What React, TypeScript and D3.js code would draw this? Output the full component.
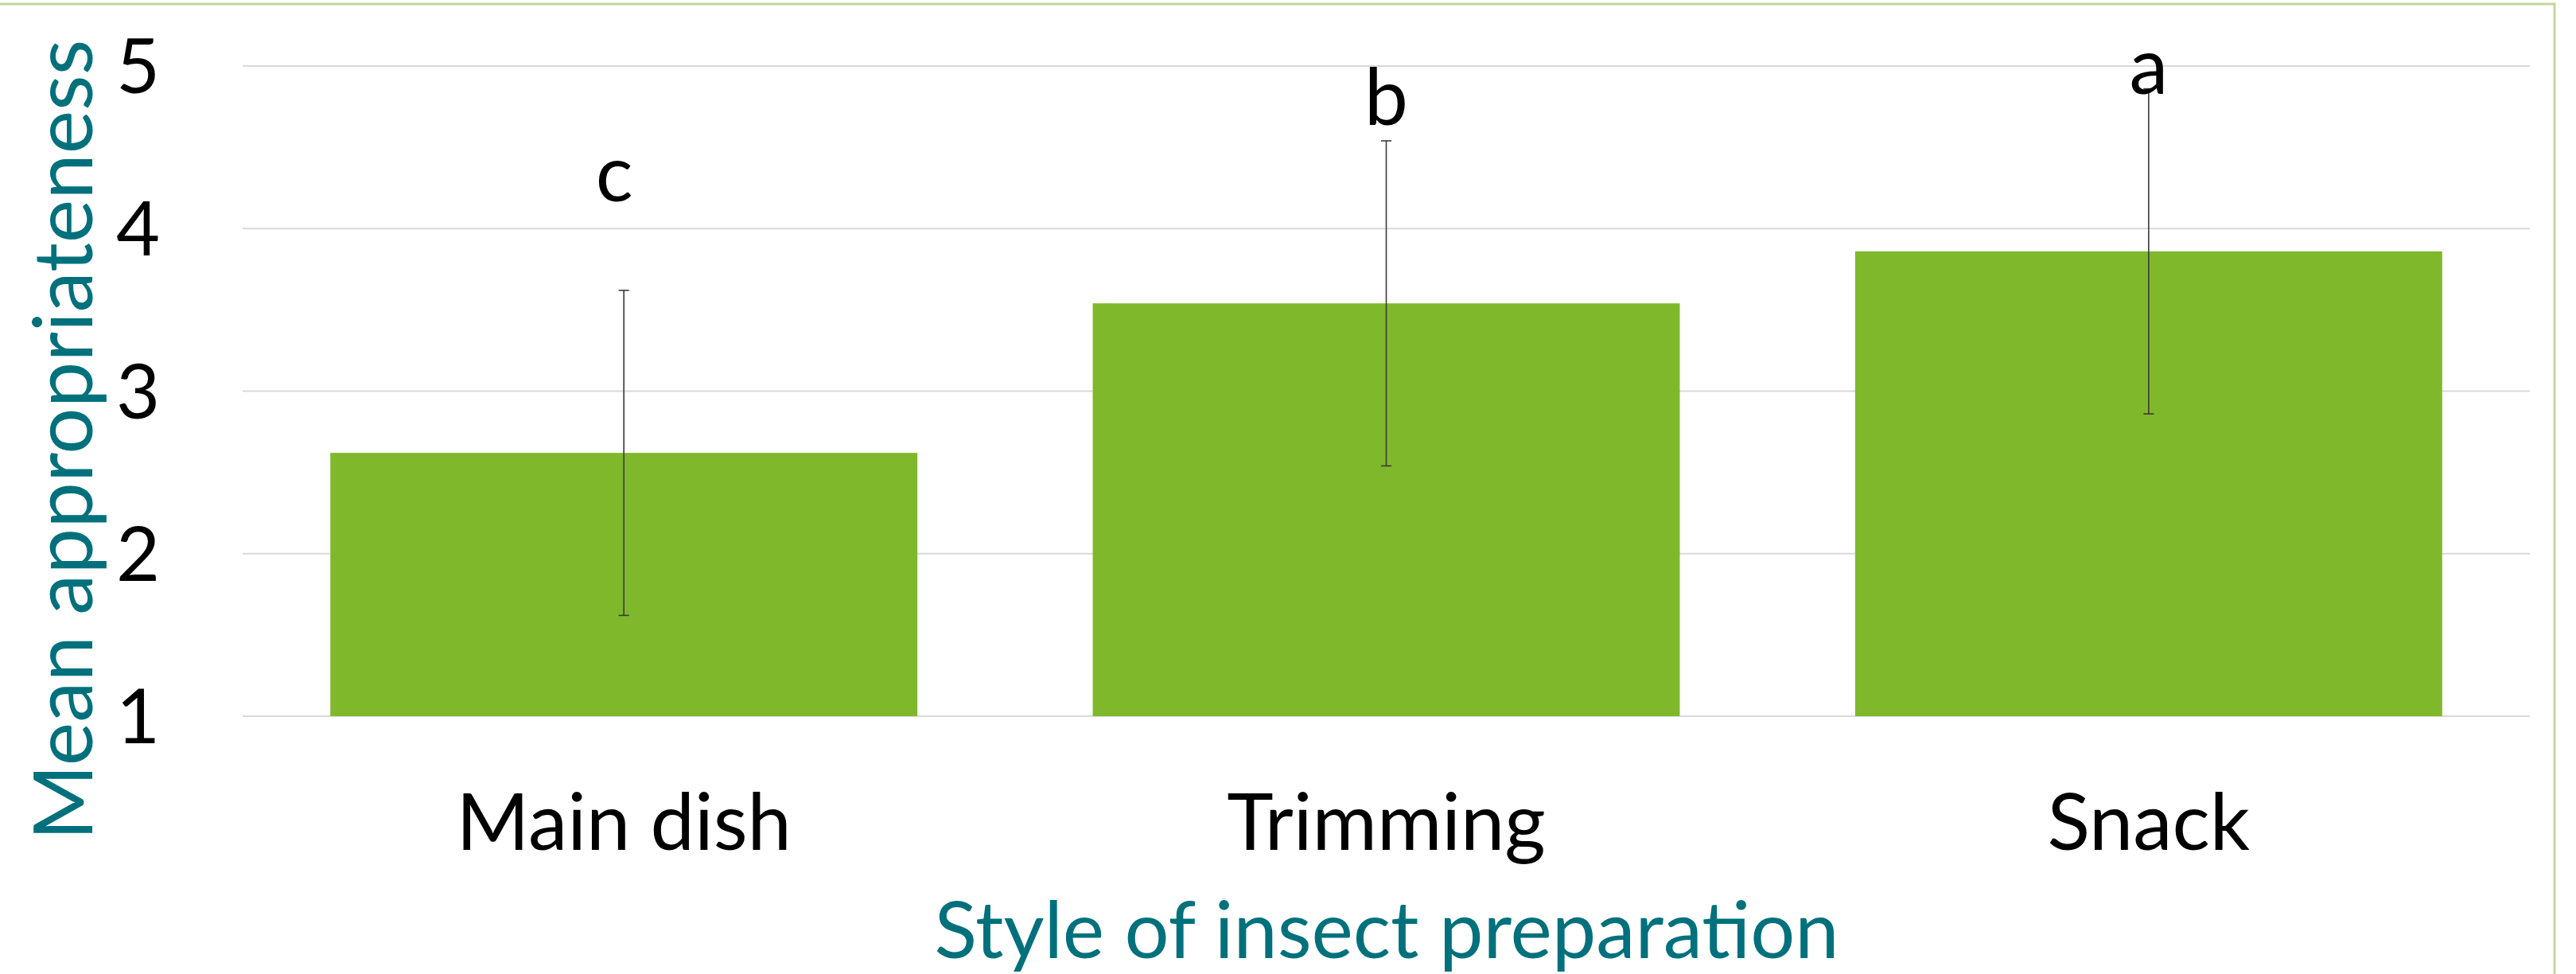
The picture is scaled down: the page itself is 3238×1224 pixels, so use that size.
import React from "react";
import * as d3 from "d3";

const categories = ["Main dish", "Trimming", "Snack"];
const means = [2.62, 3.54, 3.86];
const errors = [1.0, 1.0, 1.0];
const sigLetters = ["c", "b", "a"];
const sigLetterLevels = [4.17, 4.64, 4.83];
const yTicks = [1, 2, 3, 4, 5];
const yTitle = "Mean appropriateness";
const xTitle = "Style of insect preparation";

const W = 3238;
const H = 1224;
const FONT = "Lato, 'Open Sans', sans-serif";
const TEAL = "#00717C";
const BAR = "#7FB92B";

export default function App() {
  const x = d3
    .scaleBand<string>()
    .domain(categories)
    .range([305, 3180])
    .paddingInner(0.23)
    .paddingOuter(0.115);
  const y = d3.scaleLinear().domain([1, 5]).range([900, 83]);
  const capHalf = 6.5;

  return (
    <svg
      width={W}
      height={H}
      style={{ position: "absolute", left: 0, top: 0, background: "#fff" }}
    >
      <rect x={0} y={0} width={W} height={H} fill="#fff" />
      {/* outer frame */}
      <rect
        x={-20}
        y={5}
        width={3211 + 20}
        height={H + 40}
        fill="none"
        stroke="#C3D69B"
        strokeWidth={3}
      />
      {/* gridlines */}
      {yTicks.map((t) => (
        <line
          key={"g" + t}
          x1={305}
          x2={3180}
          y1={y(t)}
          y2={y(t)}
          stroke="#D9D9D9"
          strokeWidth={2}
        />
      ))}
      {/* y tick labels */}
      {yTicks.map((t) => (
        <text
          key={"t" + t}
          x={201}
          y={y(t)}
          dy="0.36em"
          textAnchor="end"
          fontFamily={FONT}
          fontSize={95}
          fill="#000"
        >
          {t}
        </text>
      ))}
      {/* bars */}
      {categories.map((c, i) => (
        <rect
          key={"b" + c}
          x={x(c)}
          y={y(means[i])}
          width={x.bandwidth()}
          height={y(1) - y(means[i])}
          fill={BAR}
        />
      ))}
      {/* error bars */}
      {categories.map((c, i) => {
        const cx = (x(c) as number) + x.bandwidth() / 2;
        const hi = y(means[i] + errors[i]);
        const lo = y(means[i] - errors[i]);
        return (
          <g key={"e" + c} stroke="#3a3a3a" strokeWidth={1.6}>
            <line x1={cx} x2={cx} y1={hi} y2={lo} />
            <line x1={cx - capHalf} x2={cx + capHalf} y1={hi} y2={hi} />
            <line x1={cx - capHalf} x2={cx + capHalf} y1={lo} y2={lo} />
          </g>
        );
      })}
      {/* significance letters */}
      {categories.map((c, i) => (
        <text
          key={"l" + c}
          x={(x(c) as number) + x.bandwidth() / 2 - (i === 0 ? 12 : 0)}
          y={y(sigLetterLevels[i])}
          textAnchor="middle"
          fontFamily={FONT}
          fontSize={98}
          fill="#000"
        >
          {sigLetters[i]}
        </text>
      ))}
      {/* category labels */}
      {categories.map((c) => (
        <text
          key={"c" + c}
          x={(x(c) as number) + x.bandwidth() / 2}
          y={1068}
          textAnchor="middle"
          fontFamily={FONT}
          fontSize={99}
          fill="#000"
        >
          {c}
        </text>
      ))}
      {/* axis titles */}
      <text
        transform="translate(116,553) rotate(-90)"
        textAnchor="middle"
        fontFamily={FONT}
        fontSize={103}
        fill={TEAL}
      >
        {yTitle}
      </text>
      <text
        x={1743}
        y={1204}
        textAnchor="middle"
        fontFamily={FONT}
        fontSize={99}
        fill={TEAL}
      >
        {xTitle}
      </text>
    </svg>
  );
}
